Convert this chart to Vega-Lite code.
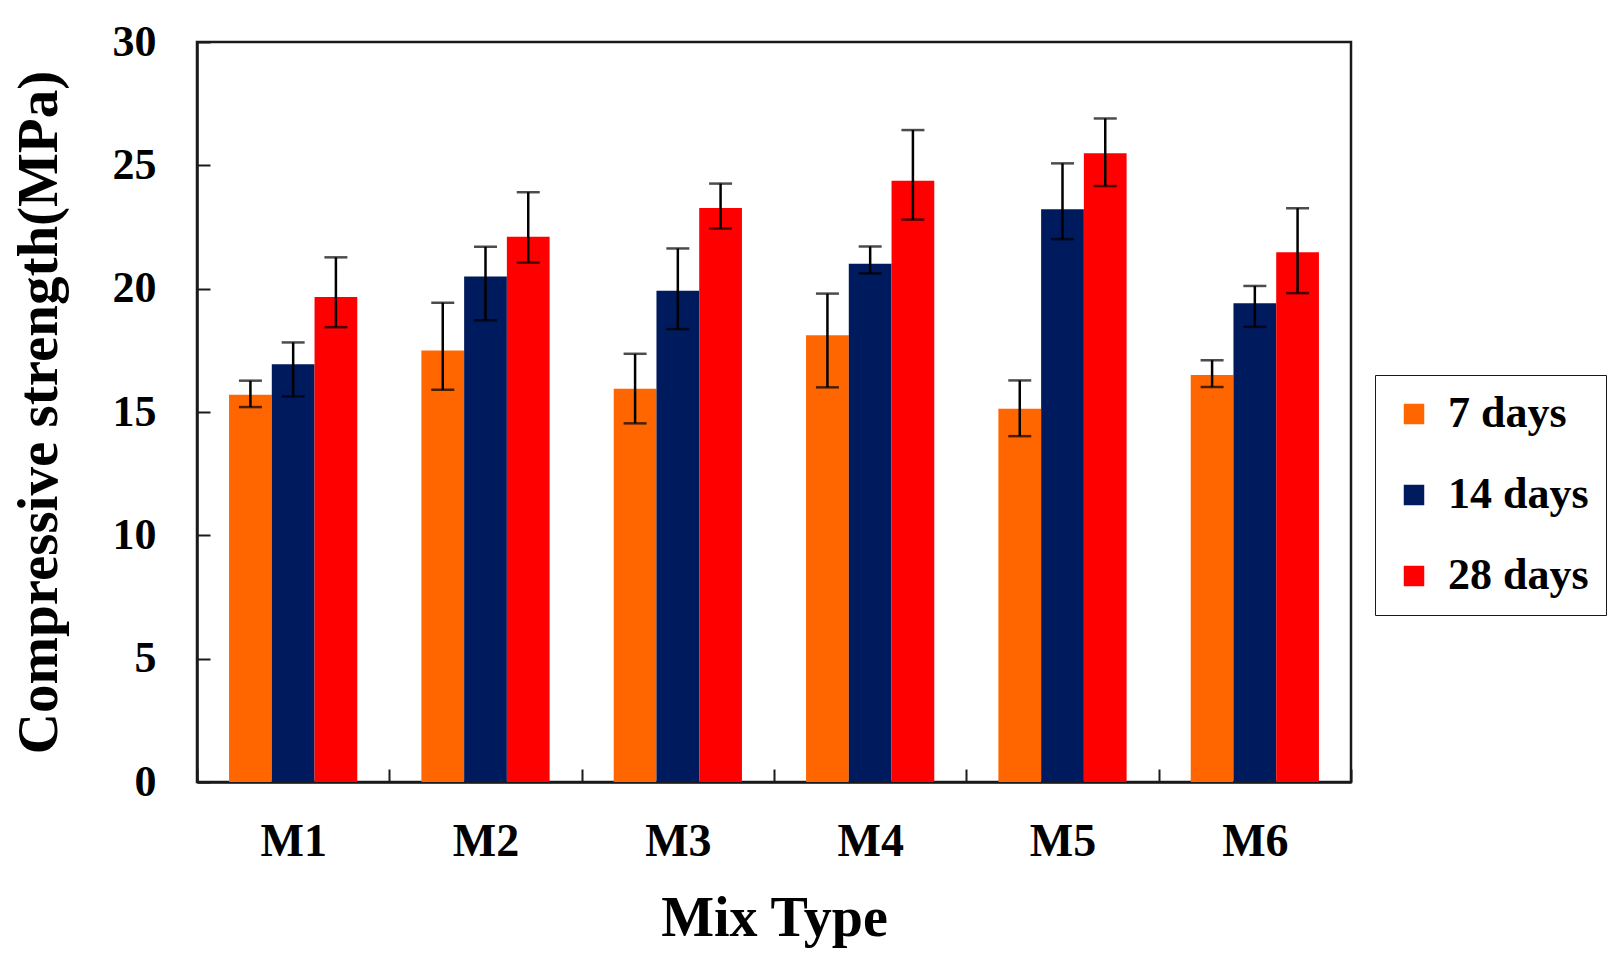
{
  "$schema": "https://vega.github.io/schema/vega-lite/v6.json",
  "width": 1154,
  "height": 740,
  "autosize": {"type": "none"},
  "padding": {"left": 197, "top": 42, "right": 272, "bottom": 191},
  "background": "white",
  "config": {
    "view": {"stroke": "#1a1a1a", "strokeWidth": 2.5},
    "font": "Liberation Serif"
  },
  "data": {
    "values": [
      {"mix": "M1", "age": "7 days", "mean": 15.7, "lo": 15.2, "hi": 16.27},
      {"mix": "M1", "age": "14 days", "mean": 16.94, "lo": 15.63, "hi": 17.82},
      {"mix": "M1", "age": "28 days", "mean": 19.66, "lo": 18.44, "hi": 21.27},
      {"mix": "M2", "age": "7 days", "mean": 17.49, "lo": 15.9, "hi": 19.43},
      {"mix": "M2", "age": "14 days", "mean": 20.49, "lo": 18.72, "hi": 21.7},
      {"mix": "M2", "age": "28 days", "mean": 22.1, "lo": 21.06, "hi": 23.91},
      {"mix": "M3", "age": "7 days", "mean": 15.94, "lo": 14.54, "hi": 17.36},
      {"mix": "M3", "age": "14 days", "mean": 19.92, "lo": 18.36, "hi": 21.63},
      {"mix": "M3", "age": "28 days", "mean": 23.27, "lo": 22.44, "hi": 24.26},
      {"mix": "M4", "age": "7 days", "mean": 18.11, "lo": 16.0, "hi": 19.8},
      {"mix": "M4", "age": "14 days", "mean": 21.01, "lo": 20.62, "hi": 21.71},
      {"mix": "M4", "age": "28 days", "mean": 24.37, "lo": 22.8, "hi": 26.43},
      {"mix": "M5", "age": "7 days", "mean": 15.13, "lo": 14.02, "hi": 16.28},
      {"mix": "M5", "age": "14 days", "mean": 23.22, "lo": 22.01, "hi": 25.08},
      {"mix": "M5", "age": "28 days", "mean": 25.49, "lo": 24.16, "hi": 26.9},
      {"mix": "M6", "age": "7 days", "mean": 16.5, "lo": 16.01, "hi": 17.1},
      {"mix": "M6", "age": "14 days", "mean": 19.41, "lo": 18.45, "hi": 20.11},
      {"mix": "M6", "age": "28 days", "mean": 21.48, "lo": 19.82, "hi": 23.26}
    ]
  },
  "encoding": {
    "x": {
      "field": "mix",
      "type": "nominal",
      "scale": {"paddingInner": 0, "paddingOuter": 0},
      "axis": {
        "title": "Mix Type",
        "titleFont": "Liberation Serif",
        "titleFontSize": 56,
        "titleFontWeight": "bold",
        "titleColor": "black",
        "titlePadding": 27,
        "labelFont": "Liberation Serif",
        "labelFontSize": 46,
        "labelFontWeight": "bold",
        "labelColor": "black",
        "labelAngle": 0,
        "labelPadding": 50,
        "tickBand": "extent",
        "tickSize": -13,
        "tickColor": "#1a1a1a",
        "tickWidth": 2,
        "domainColor": "#1a1a1a",
        "domainWidth": 2.5
      }
    },
    "xOffset": {
      "field": "age",
      "type": "nominal",
      "sort": ["7 days", "14 days", "28 days"],
      "scale": {"paddingInner": 0, "paddingOuter": 0.75}
    }
  },
  "layer": [
    {
      "mark": {"type": "bar"},
      "encoding": {
        "y": {
          "field": "mean",
          "type": "quantitative",
          "scale": {"domain": [0, 30]},
          "axis": {
            "title": "Compressive strength(MPa)",
            "titleFont": "Liberation Serif",
            "titleFontSize": 57,
            "titleFontWeight": "bold",
            "titleColor": "black",
            "titlePadding": 44,
            "values": [0, 5, 10, 15, 20, 25, 30],
            "grid": false,
            "labelFont": "Liberation Serif",
            "labelFontSize": 44,
            "labelFontWeight": "bold",
            "labelColor": "black",
            "labelPadding": 54,
            "tickSize": -13,
            "tickColor": "#1a1a1a",
            "tickWidth": 2,
            "domainColor": "#1a1a1a",
            "domainWidth": 2.5
          }
        },
        "color": {
          "field": "age",
          "type": "nominal",
          "sort": ["7 days", "14 days", "28 days"],
          "scale": {"domain": ["7 days", "14 days", "28 days"], "range": ["#FF6600", "#001A5E", "#FF0000"]},
          "legend": {
            "title": null,
            "orient": "none",
            "legendX": 1178,
            "legendY": 333,
            "symbolType": "square",
            "symbolSize": 420,
            "symbolStrokeWidth": 0,
            "labelFont": "Liberation Serif",
            "labelFontSize": 44,
            "labelFontWeight": "bold",
            "labelColor": "black",
            "labelOffset": 12,
            "rowPadding": 37,
            "padding": 17,
            "strokeColor": "#1a1a1a",
            "fillColor": "white"
          }
        }
      }
    },
    {
      "mark": {"type": "rule", "color": "black", "strokeWidth": 2.5},
      "encoding": {
        "y": {"field": "lo", "type": "quantitative"},
        "y2": {"field": "hi"}
      }
    },
    {
      "mark": {"type": "tick", "color": "black", "thickness": 2.5, "size": 23},
      "encoding": {
        "y": {"field": "lo", "type": "quantitative"}
      }
    },
    {
      "mark": {"type": "tick", "color": "black", "thickness": 2.5, "size": 23},
      "encoding": {
        "y": {"field": "hi", "type": "quantitative"}
      }
    }
  ]
}
